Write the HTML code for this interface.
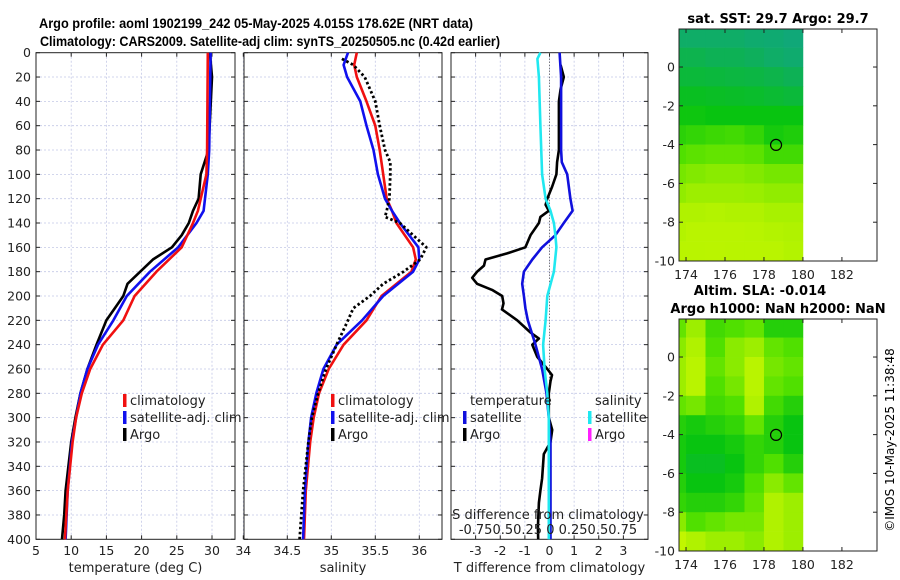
<!DOCTYPE html>
<html><head><meta charset="utf-8"><style>
html,body{margin:0;padding:0;background:#fff;}
svg{display:block;font-family:"DejaVu Sans","Liberation Sans",sans-serif;}
</style></head><body>
<svg id="fig" width="900" height="580" viewBox="0 0 900 580" xmlns="http://www.w3.org/2000/svg">
<text x="256" y="28" text-anchor="middle" font-size="13.5" font-weight="bold" font-family="Liberation Sans, sans-serif" textLength="434" lengthAdjust="spacingAndGlyphs">Argo profile: aoml 1902199_242 05-May-2025 4.015S 178.62E (NRT data)</text>
<text x="270" y="46" text-anchor="middle" font-size="13.5" font-weight="bold" font-family="Liberation Sans, sans-serif" textLength="460" lengthAdjust="spacingAndGlyphs">Climatology: CARS2009. Satellite-adj clim: synTS_20250505.nc (0.42d earlier)</text>
<text x="778" y="23" text-anchor="middle" font-size="13" font-weight="bold">sat. SST: 29.7 Argo: 29.7</text>
<text x="760" y="295" text-anchor="middle" font-size="13" font-weight="bold">Altim. SLA: -0.014</text>
<text x="778" y="313" text-anchor="middle" font-size="13" font-weight="bold">Argo h1000: NaN h2000: NaN</text>
<text transform="translate(894,440) rotate(-90)" text-anchor="middle" font-size="12">©IMOS 10-May-2025 11:38:48</text>
</svg>
<script>
// ---- profile data (depth in m) ----
const climDepth = [0,80,100,130,140,160,180,200,220,240,260,280,300,320,360,400];
const climTemp  = [29.4,29.3,29.2,28.0,27.3,25.7,22.1,19.0,17.4,14.5,12.7,11.5,10.7,10.2,9.5,9.1];
const satDepth  = [0,80,100,130,140,160,180,200,220,240,260,280,300,320,360,400];
const satTemp   = [29.8,29.6,29.4,28.8,27.8,25.2,21.2,17.9,16.0,13.8,12.3,11.3,10.7,10.1,9.5,9.2];
const argoTDepth= [0,20,80,100,120,130,140,150,160,170,180,190,200,210,220,240,260,280,300,320,340,360,380,400];
const argoTemp  = [29.7,30.0,29.5,28.4,28.1,27.3,26.7,25.7,24.3,21.6,19.8,18.0,17.4,16.2,15.0,13.6,12.3,11.3,10.6,10.0,9.6,9.2,9.0,8.7];

const climSDepth= [0,10,20,40,60,80,100,120,130,140,160,170,180,200,220,240,260,280,300,320,360,400];
const climSal   = [35.29,35.26,35.29,35.40,35.50,35.55,35.59,35.63,35.69,35.74,35.93,35.96,35.91,35.57,35.40,35.14,34.97,34.86,34.80,34.76,34.71,34.69];
const satSal    = [35.19,35.14,35.18,35.33,35.40,35.48,35.53,35.61,35.69,35.78,35.99,36.00,35.93,35.59,35.35,35.06,34.91,34.83,34.77,34.74,34.70,34.68];
const argoSDepth= [5,10,20,40,60,80,90,100,120,130,135,140,150,160,170,180,190,200,210,220,240,260,280,300,320,360,400];
const argoSal   = [35.12,35.25,35.38,35.50,35.55,35.61,35.67,35.67,35.66,35.63,35.61,35.78,35.93,36.08,36.01,35.82,35.59,35.44,35.25,35.19,35.06,34.94,34.85,34.78,34.74,34.68,34.64];

const dSatTDepth= [0,20,80,90,100,120,130,140,150,160,170,180,190,200,210,220,240,260,280,300,320,400];
const dSatT     = [0.41,0.47,0.47,0.5,0.72,0.85,0.94,0.58,0.24,-0.3,-0.7,-1.04,-1.11,-1.04,-0.98,-0.88,-0.57,-0.3,-0.12,-0.03,0.04,0.04];
const dSatSDepth= [0,5,20,60,100,120,130,140,150,160,180,200,220,240,260,280,300,400];
const dSatS     = [-0.37,-0.49,-0.43,-0.37,-0.3,-0.16,0.04,0.18,0.24,0.28,0.18,-0.09,-0.16,-0.26,-0.2,-0.09,-0.03,-0.03];
const dArgoTDepth=[10,20,30,40,80,90,100,110,120,125,130,135,140,150,160,165,170,175,180,185,190,195,200,206,211,220,230,235,240,250,260,265,270,280,300,310,320,330,350,360,370,390,400];
const dArgoT    = [0.45,0.58,0.45,0.38,0.38,0.31,0.28,0.11,-0.09,-0.16,-0.03,-0.37,-0.43,-0.77,-0.98,-1.72,-2.6,-2.66,-2.94,-3.14,-2.94,-2.33,-1.92,-1.87,-1.93,-1.31,-0.77,-0.43,-0.7,-0.5,-0.09,0.1,0.04,-0.03,-0.03,0.11,0.04,-0.23,-0.3,-0.37,-0.43,-0.47,-0.46];

// ---- map data (rows: lat 2..-10 by 1 deg, cols: lon 173..180 by 1 deg) ----
const mapLats = [2,1,0,-1,-2,-3,-4,-5,-6,-7,-8,-9];
const mapLons = [173,174,175,176,177,178,179];
const sstGrid = [
 [0.05,0.05,0.05,0.05,0.03,0.02,0.0],
 [0.12,0.12,0.10,0.10,0.08,0.05,0.03],
 [0.18,0.18,0.17,0.16,0.15,0.13,0.10],
 [0.25,0.25,0.24,0.23,0.22,0.20,0.18],
 [0.32,0.32,0.30,0.30,0.30,0.30,0.30],
 [0.42,0.45,0.48,0.50,0.45,0.35,0.38],
 [0.55,0.58,0.60,0.60,0.58,0.50,0.50],
 [0.65,0.68,0.70,0.70,0.68,0.65,0.65],
 [0.72,0.75,0.75,0.75,0.74,0.72,0.72],
 [0.80,0.80,0.82,0.80,0.80,0.78,0.78],
 [0.82,0.85,0.85,0.85,0.84,0.82,0.80],
 [0.85,0.85,0.86,0.85,0.85,0.85,0.82]];
const slaGrid = [
 [0.60,0.75,0.50,0.55,0.60,0.40,0.40],
 [0.70,0.80,0.55,0.70,0.75,0.60,0.55],
 [0.75,0.85,0.60,0.70,0.85,0.65,0.60],
 [0.75,0.85,0.55,0.65,0.85,0.60,0.55],
 [0.60,0.65,0.50,0.55,0.80,0.50,0.40],
 [0.40,0.35,0.40,0.45,0.60,0.40,0.30],
 [0.35,0.30,0.30,0.35,0.45,0.40,0.30],
 [0.35,0.25,0.25,0.30,0.45,0.55,0.40],
 [0.40,0.30,0.30,0.35,0.55,0.70,0.60],
 [0.45,0.40,0.40,0.45,0.60,0.80,0.75],
 [0.70,0.55,0.60,0.65,0.65,0.80,0.75],
 [0.90,0.80,0.75,0.75,0.70,0.80,0.75]];
const argoLon = 178.62, argoLat = -4.015;
const depthTicks = [0,20,40,60,80,100,120,140,160,180,200,220,240,260,280,300,320,340,360,380,400];
const tTicks = [5,10,15,20,25,30];
const sTicks = [34,34.5,35,35.5,36];
const sTickLabels = ["34","34.5","35","35.5","36"];
const dTicks = [-3,-2,-1,0,1,2,3];
const mapXTicks = [174,176,178,180,182];
const mapYTicks = [0,-2,-4,-6,-8,-10];

const NS="http://www.w3.org/2000/svg";
const svg=document.getElementById('fig');
function mk(tag,attrs,parent){const e=document.createElementNS(NS,tag);for(const k in attrs)e.setAttribute(k,attrs[k]);(parent||svg).appendChild(e);return e;}
const Y0=52.7, Y1=539.3;
const yD=d=>Y0+(d/400)*(Y1-Y0);
function lin(d0,d1,p0,p1){return v=>p0+(v-d0)/(d1-d0)*(p1-p0);}

function panel(name,L,R,xs,ticks,labels,showY,xtitle){
  const g=mk('g',{});
  
  
  ticks.forEach(t=>{const x=xs(t);
    const gl=mk('line',{x1:x,x2:x,y1:Y0,y2:Y1,stroke:'#c4c8e6','stroke-width':0.8,'stroke-dasharray':'2,2'},g);
    
    mk('line',{x1:x,x2:x,y1:Y0,y2:Y0+4,stroke:'#222'},g);mk('line',{x1:x,x2:x,y1:Y1,y2:Y1-4,stroke:'#222'},g);});
  depthTicks.forEach(d=>{const y=yD(d);
    if(d>0&&d<400){const gl=mk('line',{x1:L,x2:R,y1:y,y2:y,stroke:'#c4c8e6','stroke-width':0.8,'stroke-dasharray':'2,2'},g);
    }
    mk('line',{x1:L,x2:L+4,y1:y,y2:y,stroke:'#222'},g);mk('line',{x1:R,x2:R-4,y1:y,y2:y,stroke:'#222'},g);
    if(showY){const t=mk('text',{x:31,y:y+4.5,'text-anchor':'end','font-size':12.5,fill:'#222'},g);t.textContent=d;
      }});
  ticks.forEach((t,i)=>{const tx=mk('text',{x:xs(t),y:555,'text-anchor':'middle','font-size':12.5,fill:'#222'},g);tx.textContent=labels[i];
    });
  const tt=mk('text',{x:(L+R)/2,y:572,'text-anchor':'middle','font-size':13,fill:'#222'},g);tt.textContent=xtitle;
  
  const fr=mk('rect',{x:L,y:Y0,width:R-L,height:Y1-Y0,fill:'none',stroke:'#222','stroke-width':1},g);
  
  return g;
}
function line(g,xs,vals,depths,color,w,dash,name){
  const p=vals.map((v,i)=>xs(v).toFixed(1)+','+yD(depths[i]).toFixed(1)).join(' ');
  const e=mk('polyline',{points:p,fill:'none',stroke:color,'stroke-width':w,'stroke-linejoin':'round'},g);
  if(dash)e.setAttribute('stroke-dasharray',dash);
  
}
function leg(g,x,y,color,label,name){
  const r=mk('rect',{x:x,y:y-11,width:3.5,height:13,fill:color},g);
  
  const t=mk('text',{x:x+7,y:y,'font-size':13,fill:'#222'},g);t.textContent=label;
  
}
// Panel 1 temperature
const xT=lin(5,30,36,212);
const p1=panel('temperature-panel',36,235,xT,tTicks,tTicks.map(String),true,'temperature (deg C)');
line(p1,xT,argoTemp,argoTDepth,'#000',2.6,null,'argo-temperature-line');
line(p1,xT,satTemp,satDepth,'#1010ee',2.6,null,'satellite-temperature-line');
line(p1,xT,climTemp,climDepth,'#f01010',2.6,null,'climatology-temperature-line');
leg(p1,123,405,'#f01010','climatology','legend-climatology');
leg(p1,123,422,'#1010ee','satellite-adj. clim','legend-satellite');
leg(p1,123,439,'#000','Argo','legend-argo');
// Panel 2 salinity
const xS=lin(34,36,243.3,419.3);
const p2=panel('salinity-panel',244,442,xS,sTicks,sTickLabels,false,'salinity');
line(p2,xS,climSal,climSDepth,'#f01010',2.6,null,'climatology-salinity-line');
line(p2,xS,satSal,climSDepth,'#1010ee',2.6,null,'satellite-salinity-line');
line(p2,xS,argoSal,argoSDepth,'#000',2.8,'2.5,2.5','argo-salinity-line');
leg(p2,331,405,'#f01010','climatology','legend-climatology-s');
leg(p2,331,422,'#1010ee','satellite-adj. clim','legend-satellite-s');
leg(p2,331,439,'#000','Argo','legend-argo-s');
// Panel 3 differences
const xDf=lin(-4,4,451,648);
const p3=panel('difference-panel',451,648,xDf,dTicks,dTicks.map(String),false,'T difference from climatology');
const zl=mk('line',{x1:xDf(0),x2:xDf(0),y1:Y0,y2:Y1,stroke:'#555','stroke-width':1,'stroke-dasharray':'1,2'},p3);

line(p3,xDf,dArgoT,dArgoTDepth,'#000',2.6,null,'argo-temp-diff-line');
line(p3,xDf,dSatT,dSatTDepth,'#1010dd',2.6,null,'satellite-temp-diff-line');
line(p3,xDf,dSatS,dSatSDepth,'#20e8f0',2.6,null,'satellite-sal-diff-line');
const lt=mk('text',{x:470,y:405,'font-size':13,fill:'#222'},p3);lt.textContent='temperature';

const ls=mk('text',{x:595,y:405,'font-size':13,fill:'#222'},p3);ls.textContent='salinity';

leg(p3,463,422,'#1010dd','satellite','legend-temp-satellite');
leg(p3,463,439,'#000','Argo','legend-temp-argo');
leg(p3,588,422,'#20e8f0','satellite','legend-sal-satellite');
leg(p3,588,439,'#ff20ff','Argo','legend-sal-argo');
const sd=mk('text',{x:548,y:519,'text-anchor':'middle','font-size':13,fill:'#222'},p3);sd.textContent='S difference from climatology';

const sl=mk('text',{x:548,y:534,'text-anchor':'middle','font-size':13,fill:'#222'},p3);sl.textContent='-0.750.50.25 0  0.250.50.75';


// Maps
function cmap(v){
  const stops=[[0,[16,168,120]],[0.3,[8,196,16]],[0.55,[80,224,0]],[0.8,[176,242,0]],[1,[210,250,0]]];
  for(let i=1;i<stops.length;i++){if(v<=stops[i][0]){const a=stops[i-1],b=stops[i];const f=(v-a[0])/(b[0]-a[0]);
    return 'rgb('+a[1].map((c,j)=>Math.round(c+(b[1][j]-c)*f)).join(',')+')';}}
  return 'rgb(210,250,0)';
}
function map(name,top,bottom,grid){
  const L=679,R=877,lonMin=173.64,lonMax=183.8;
  const xs=lin(lonMin,lonMax,L,R);
  const ys=lin(1.96,-10,top,bottom);
  const g=mk('g',{});
  
  const cp=mk('clipPath',{id:name+'-clip'},g);mk('rect',{x:L,y:top,width:R-L,height:bottom-top},cp);
  const cg=mk('g',{'clip-path':'url(#'+name+'-clip)'},g);
  grid.forEach((row,i)=>row.forEach((v,j)=>{
    const x0=xs(mapLons[j]),x1=xs(mapLons[j]+1),y0=ys(mapLats[i]),y1=ys(mapLats[i]-1);
    const c=mk('rect',{x:x0,y:y0,width:x1-x0+0.3,height:y1-y0+0.3,fill:cmap(v)},cg);
    
  }));
  mapXTicks.forEach(t=>{const x=xs(t);mk('line',{x1:x,x2:x,y1:bottom,y2:bottom-4,stroke:'#222'},g);mk('line',{x1:x,x2:x,y1:top,y2:top+4,stroke:'#222'},g);
    const tx=mk('text',{x:x,y:bottom+18,'text-anchor':'middle','font-size':12.5,fill:'#222'},g);tx.textContent=t;
    });
  mapYTicks.forEach(t=>{const y=ys(t);mk('line',{x1:L,x2:L+4,y1:y,y2:y,stroke:'#222'},g);mk('line',{x1:R,x2:R-4,y1:y,y2:y,stroke:'#222'},g);
    const tx=mk('text',{x:675,y:y+4.5,'text-anchor':'end','font-size':12.5,fill:'#222'},g);tx.textContent=t;
    });
  const ci=mk('circle',{cx:xs(argoLon),cy:ys(argoLat),r:5.5,fill:'none',stroke:'#000','stroke-width':1.2},g);
  
  const fr=mk('rect',{x:L,y:top,width:R-L,height:bottom-top,fill:'none',stroke:'#222'},g);
  
}
map('sst-map',29,261,sstGrid);
map('sla-map',319,551,slaGrid);
</script>
</body></html>
